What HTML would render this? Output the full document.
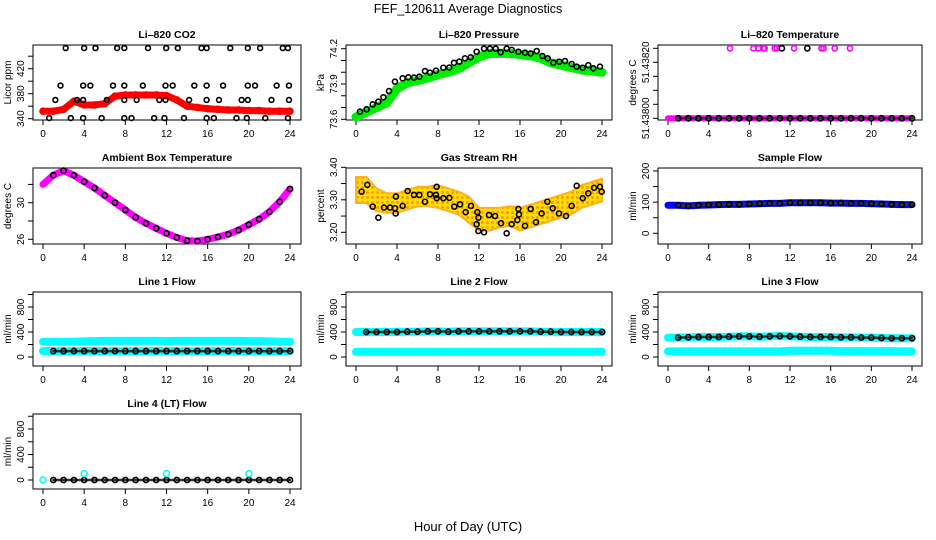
<!DOCTYPE html>
<html><head><meta charset="utf-8"><style>
body{margin:0;background:#fff;}
svg{display:block;font-family:"Liberation Sans",Arial,sans-serif;}
</style></head><body>
<svg id="chart" width="936" height="540" viewBox="0 0 936 540">
<defs>
<pattern id="rhpat" width="5" height="5" patternUnits="userSpaceOnUse"><rect width="5" height="5" fill="#ffe000"/><circle cx="2.5" cy="2.5" r="1.5" fill="#ff9a00"/></pattern>
</defs>
<text x="468" y="13" text-anchor="middle" font-size="12.5">FEF_120611  Average Diagnostics</text>
<text x="468" y="531" text-anchor="middle" font-size="13">Hour of Day (UTC)</text>
</svg>
<script>
const HOURS=[0,1,2,3,4,5,6,7,8,9,10,11,12,13,14,15,16,17,18,19,20,21,22,23,24];
const XTICKS=[0,4,8,12,16,20,24];
// CO2
const co2Red=[352,352,355,368,362,362,364,376,378,378,378,378,377,370,360,358,356,355,354,354,353,353,352,352,352];
const co2BlackHours=[2.2,4.0,5.1,7.2,7.9,10.2,11.97,13.1,15.4,15.9,18.2,19.9,21.1,23.3,23.8,
1.7,3.9,4.6,6.8,7.9,9.7,11.9,12.6,14.7,15.9,17.5,19.9,20.6,22.7,23.9,
1.2,3.3,3.9,6.2,7.9,9.1,11.3,11.9,14.2,15.9,17.1,19.3,19.9,22.2,23.9,
0.6,2.7,3.9,5.7,7.9,8.6,10.8,11.8,13.7,15.9,16.6,18.8,19.8,21.6,23.8];
const co2BlackVals=[453,453,453,453,453,453,453,453,453,453,453,453,453,453,453,
393,393,393,393,393,393,393,393,393,393,393,393,393,393,393,
370,370,370,370,370,370,370,370,370,370,370,370,370,370,370,
341,341,341,341,341,341,341,341,341,341,341,341,341,341,341];
// Pressure
const presGreen=[73.62,73.66,73.70,73.74,73.86,73.91,73.93,73.95,73.98,74.00,74.03,74.08,74.13,74.16,74.16,74.16,74.15,74.14,74.12,74.08,74.06,74.04,74.02,74.01,74.00];
const presBlackHours=[0.39,1.04,1.63,2.18,2.67,3.22,3.8,4.55,5.1,5.66,6.18,6.73,7.22,7.8,8.52,9.1,9.56,10.08,10.63,11.19,11.77,12.49,13.07,13.63,14.11,14.7,15.19,15.84,16.49,17.04,17.63,18.18,18.7,19.25,19.83,20.39,21.04,21.53,22.12,22.66,23.15,23.8];
const presBlackVals=[73.665,73.685,73.727,73.75,73.787,73.84,73.92,73.948,73.957,73.955,73.962,74.01,73.996,74.013,74.038,74.04,74.08,74.09,74.118,74.127,74.174,74.2,74.2,74.2,74.17,74.2,74.19,74.174,74.166,74.16,74.18,74.138,74.118,74.08,74.09,74.095,74.07,74.047,74.038,74.06,74.033,74.047];
// Li-820 temperature
const ltBase=[51.438,51.438,51.438,51.438,51.438,51.438,51.438,51.438,51.438,51.438,51.438,51.438,51.438,51.438,51.438,51.438,51.438,51.438,51.438,51.438,51.438,51.438,51.438,51.438,51.438];
const ltTopHours=[6.1,8.4,8.9,9.4,9.5,10.5,10.7,12.4,15.1,15.3,16.4,17.9];
const ltTopVals=[51.43825,51.43825,51.43825,51.43825,51.43825,51.43825,51.43825,51.43825,51.43825,51.43825,51.43825,51.43825];
const ltTopBlackHours=[11.2,13.7];
const ltTopBlackVals=[51.43825,51.43825];
// Ambient
const ambVals=[32.0,33.0,33.5,33.0,32.3,31.6,30.8,30.0,29.2,28.4,27.75,27.2,26.66,26.2,25.85,25.8,26.0,26.25,26.55,27.0,27.6,28.2,29.0,30.1,31.5];
// RH
const rhCenter=[3.33,3.33,3.30,3.29,3.29,3.30,3.31,3.31,3.31,3.30,3.29,3.27,3.24,3.24,3.245,3.25,3.24,3.25,3.26,3.27,3.28,3.29,3.31,3.32,3.33];
const rhSpread=[0.04,0.04,0.035,0.03,0.03,0.03,0.03,0.03,0.035,0.035,0.035,0.04,0.035,0.035,0.03,0.03,0.035,0.035,0.035,0.035,0.035,0.035,0.035,0.035,0.035];
const rhBlackHours=[0.55,1.1,1.63,2.18,2.73,3.32,3.8,3.87,3.9,4.55,5.04,5.66,6.18,6.73,7.22,7.8,7.87,7.87,8.52,9.1,9.59,10.15,10.7,11.22,11.77,11.84,11.94,11.94,12.49,12.98,13.56,14.15,14.7,15.19,15.74,15.84,15.9,16.49,17.04,17.56,18.11,18.67,19.19,19.8,20.49,21.04,21.53,22.12,22.66,23.22,23.8,23.97];
const rhBlackVals=[3.325,3.346,3.279,3.245,3.276,3.276,3.274,3.258,3.31,3.281,3.327,3.315,3.315,3.294,3.317,3.315,3.34,3.305,3.305,3.306,3.279,3.286,3.262,3.281,3.225,3.262,3.245,3.204,3.20,3.253,3.25,3.228,3.197,3.225,3.238,3.272,3.255,3.22,3.272,3.231,3.258,3.294,3.274,3.258,3.25,3.281,3.343,3.305,3.32,3.337,3.34,3.325];
// Sample flow
const sampleVals=[90,90,88,90,91,92,93,93,94,95,96,96,98,98,98,98,97,97,96,96,95,94,93,92,92];
// Line flows
const l1Upper=[245,245,245,245,250,255,258,258,258,258,258,258,255,258,258,258,258,258,258,258,255,255,250,245,245];
const l1Lower=[95,95,95,95,95,95,95,95,95,95,95,95,95,95,95,95,95,95,95,95,95,95,95,95,95];
const l2Upper=[400,400,400,400,400,405,405,410,410,405,410,410,410,410,410,410,410,410,405,405,400,400,400,400,400];
const l2Lower=[85,85,85,85,85,85,85,85,85,85,85,85,85,85,85,85,85,85,85,85,85,85,85,85,85];
const l3Upper=[310,310,315,320,320,320,325,330,330,325,330,335,330,325,320,320,320,315,315,310,310,305,300,300,300];
const l3Lower=[90,90,90,90,90,90,90,90,90,90,90,90,100,100,100,100,100,95,95,95,95,95,95,90,90];
const l4Vals=[0,0,0,0,0,0,0,0,0,0,0,0,0,0,0,0,0,0,0,0,0,0,0,0,0];
const l4CyanHours=[0,4,12,20];
const l4CyanVals=[0,100,100,100];

const svg=document.getElementById('chart');
const NS='http://www.w3.org/2000/svg';
function mk(tag,attrs,parent){const e=document.createElementNS(NS,tag);for(const k in attrs)e.setAttribute(k,attrs[k]);(parent||svg).appendChild(e);return e;}

const COLS=[{l:33,r:301,x0:43,x24:290},{l:346,r:612,x0:356,x24:602},{l:658,r:922,x0:668,x24:912}];
const ROWS=[{t:45,b:120},{t:168,b:244},{t:292,b:366},{t:414,b:489}];

function makePanel(name,title,ylab,c,r,v0,p0,v1,p1,ticks,labels,labelText){
  const g=mk('g',{});
  
  
  const C=COLS[c],R=ROWS[r];
  const P={g:g,C:C,R:R,x:h=>C.x0+h*(C.x24-C.x0)/24,y:v=>p0+(v-v0)*(p1-p0)/(v1-v0)};
  const box=mk('rect',{x:C.l,y:R.t,width:C.r-C.l,height:R.b-R.t,fill:'none',stroke:'#000','stroke-width':1},g);
  
  
  const tt=mk('text',{x:(C.l+C.r)/2,y:R.t-7,'text-anchor':'middle','font-size':'10.5','font-weight':'bold'},g);
  tt.textContent=title;
  
  
  const yt=mk('text',{transform:`translate(${C.l-22},${(R.t+R.b)/2}) rotate(-90)`,'text-anchor':'middle','font-size':'10'},g);
  yt.textContent=ylab;
  
  
  mk('line',{x1:P.x(0),x2:P.x(24),y1:R.b,y2:R.b,stroke:'#000'},g);
  XTICKS.forEach(h=>{
    mk('line',{x1:P.x(h),x2:P.x(h),y1:R.b,y2:R.b+5,stroke:'#000'},g);
    const t=mk('text',{x:P.x(h),y:R.b+17,'text-anchor':'middle','font-size':'10'},g);
    t.textContent=h;
    
    
  });
  mk('line',{x1:C.l,x2:C.l,y1:P.y(ticks[0]),y2:P.y(ticks[ticks.length-1]),stroke:'#000'},g);
  ticks.forEach(v=>mk('line',{x1:C.l-5,x2:C.l,y1:P.y(v),y2:P.y(v),stroke:'#000'},g));
  labels.forEach((v,i)=>{
    const t=mk('text',{transform:`translate(${C.l-9},${P.y(v)}) rotate(-90)`,'text-anchor':'middle','font-size':'10'},g);
    t.textContent=labelText?labelText[i]:v;
    
    
  });
  return P;
}
function band(P,xs,ys,color,w,name){
  const pts=xs.map((h,i)=>P.x(h)+','+P.y(ys[i])).join(' ');
  const pl=mk('polyline',{points:pts,fill:'none',stroke:color,'stroke-width':w,'stroke-linejoin':'round','stroke-linecap':'round'},P.g);
  
  
}
function pts(P,xs,ys,color,r,name,fill){
  xs.forEach((h,i)=>{
    const c=mk('circle',{cx:P.x(h),cy:P.y(ys[i]),r:r,fill:fill||'none',stroke:color,'stroke-width':1.6},P.g);
    
    
  });
}
function darkRow(P,xs,ys,name){
  band(P,xs.slice(1),ys.slice(1),'#333',2.5,name+'-line');
  pts(P,xs.slice(1),ys.slice(1),'#000',2.6,name);
}

P=makePanel('co2-panel','Li\u2013820 CO2','Licor ppm',0,0,340,118.7,420,68.7,[340,360,380,400,420,440],[340,380,420]);
band(P,HOURS,co2Red,'#ff0000',7,'co2-red-series');
pts(P,HOURS,co2Red,'#ff0000',3,'co2-red-point');
pts(P,co2BlackHours,co2BlackVals,'#000',2.4,'co2-black-point');

P=makePanel('pressure-panel','Li\u2013820 Pressure','kPa',1,0,73.6,119.3,74.2,48.7,[73.6,73.7,73.8,73.9,74.0,74.1,74.2],[73.6,73.9,74.2],['73.6','73.9','74.2']);
band(P,HOURS,presGreen,'#00ee00',9,'pressure-green-series');
pts(P,presBlackHours,presBlackVals,'#000',2.5,'pressure-black-point');

P=makePanel('li-temp-panel','Li\u2013820 Temperature','degrees C',2,0,51.438,118.3,51.4382,62.3,[51.438,51.43805,51.4381,51.43815,51.4382,51.43825],[51.438,51.4382],['51.43800','51.43820']);
band(P,HOURS,ltBase,'#ff00ff',6,'li-temp-magenta-series');
darkRow(P,HOURS,ltBase,'li-temp-black-point');
pts(P,ltTopHours,ltTopVals,'#ff00ff',2.6,'li-temp-top-point');
pts(P,ltTopBlackHours,ltTopBlackVals,'#000',2.6,'li-temp-top-black-point');

P=makePanel('ambient-temp-panel','Ambient Box Temperature','degrees C',0,1,26,239.3,30,202.7,[26,28,30,32],[26,30]);
band(P,HOURS,ambVals,'#ff00ff',7,'ambient-magenta-series');
pts(P,HOURS.slice(1),ambVals.slice(1),'#000',2.6,'ambient-black-point');

P=makePanel('rh-panel','Gas Stream RH','percent',1,1,3.2,232.3,3.4,167.3,[3.2,3.25,3.3,3.35,3.4],[3.2,3.3,3.4],['3.20','3.30','3.40']);
(function(){
  const up=HOURS.map((h,i)=>P.x(h)+','+P.y(rhCenter[i]+rhSpread[i]));
  const dn=HOURS.map((h,i)=>P.x(h)+','+P.y(rhCenter[i]-rhSpread[i])).reverse();
  const poly=mk('polygon',{points:up.concat(dn).join(' '),fill:'url(#rhpat)',stroke:'#ffb020','stroke-width':2,'stroke-linejoin':'round'},P.g);
  
  
})();
pts(P,rhBlackHours,rhBlackVals,'#000',2.5,'rh-black-point');

P=makePanel('sample-flow-panel','Sample Flow','ml/min',2,1,0,233.3,200,171,[0,50,100,150,200],[0,100,200]);
band(P,HOURS,sampleVals,'#0000ff',7,'sample-blue-series');
darkRow(P,HOURS,sampleVals,'sample-black-point');

const FT=[0,200,400,600,800,1000],FL=[0,400,800];
P=makePanel('line1-flow-panel','Line 1 Flow','ml/min',0,2,0,357,800,307,FT,FL);
band(P,HOURS,l1Upper,'#00ffff',8,'line1-cyan-upper');
band(P,HOURS,l1Lower,'#00ffff',8,'line1-cyan-lower');
darkRow(P,HOURS,l1Lower,'line1-black-point');

P=makePanel('line2-flow-panel','Line 2 Flow','ml/min',1,2,0,357,800,307,FT,FL);
band(P,HOURS,l2Lower,'#00ffff',8,'line2-cyan-lower');
band(P,HOURS,l2Upper,'#00ffff',8,'line2-cyan-upper');
darkRow(P,HOURS,l2Upper,'line2-black-point');

P=makePanel('line3-flow-panel','Line 3 Flow','ml/min',2,2,0,357,800,307,FT,FL);
band(P,HOURS,l3Lower,'#00ffff',8,'line3-cyan-lower');
band(P,HOURS,l3Upper,'#00ffff',8,'line3-cyan-upper');
darkRow(P,HOURS,l3Upper,'line3-black-point');

P=makePanel('line4-flow-panel','Line 4 (LT) Flow','ml/min',0,3,0,480,800,429,FT,FL);
darkRow(P,HOURS,l4Vals,'line4-black-point');
pts(P,l4CyanHours,l4CyanVals,'#00ffff',3,'line4-cyan-point');
</script>
</body></html>
